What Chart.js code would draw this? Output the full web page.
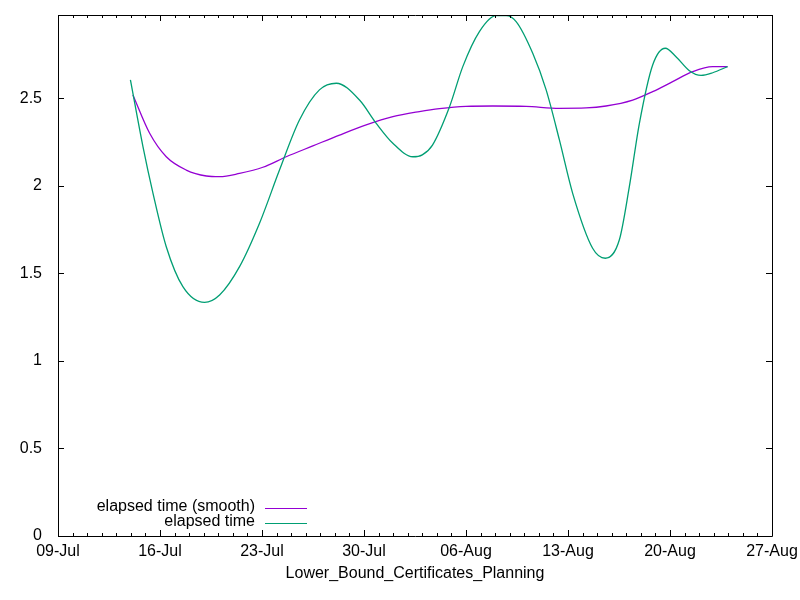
<!DOCTYPE html>
<html>
<head>
<meta charset="utf-8">
<script src="https://cdn.jsdelivr.net/npm/chart.js@4/dist/chart.umd.min.js"></script>
<style>
  html, body { margin: 0; padding: 0; background: #fff; }
  #wrap { width: 800px; height: 600px; }
</style>
</head>
<body>
<div id="wrap"><canvas id="chart" width="800" height="600"></canvas></div>
<script>
// days counted from 09-Jul
const tickLabels = ["09-Jul", "16-Jul", "23-Jul", "30-Jul", "06-Aug", "13-Aug", "20-Aug", "27-Aug"];
const yTicks = [0, 0.5, 1, 1.5, 2, 2.5];

const rawDays = [4.97, 5.83, 6.52, 7.43, 8.57, 10.06, 11.09, 12.46, 13.83, 15.2, 16.57, 17.94, 19.1,
    20.69, 21.84, 22.98, 24.35, 25.0, 25.7, 26.87, 27.78, 28.92, 30.07, 30.75, 31.44, 32.58, 33.5,
    34.41, 35.32, 36.69, 37.56, 38.52, 39.21, 39.9, 40.81, 41.68, 42.41, 43.33, 44.13, 44.93, 45.95];
const rawValues = [2.606, 2.225, 1.958, 1.653, 1.425, 1.335, 1.377, 1.539, 1.787, 2.091, 2.377, 2.549, 2.587,
    2.491, 2.358, 2.244, 2.167, 2.178, 2.234, 2.453, 2.682, 2.882, 2.973, 2.973, 2.939, 2.758, 2.549,
    2.263, 1.958, 1.644, 1.587, 1.691, 1.996, 2.358, 2.691, 2.787, 2.739, 2.659, 2.632, 2.647, 2.682];

const smoothDays = [5.14, 6.29, 7.43, 8.8, 10.18, 11.09, 12.46, 14.06, 15.66, 17.49, 19.32, 21.15, 22.98,
    24.8, 26.18, 28.0, 29.84, 32.12, 34.41, 36.24, 37.61, 39.44, 40.81, 42.18, 43.55, 44.93, 45.95];
const smoothValues = [2.52, 2.301, 2.167, 2.091, 2.057, 2.053, 2.072, 2.107, 2.167, 2.229, 2.291, 2.349, 2.396,
    2.425, 2.442, 2.455, 2.457, 2.455, 2.444, 2.446, 2.457, 2.491, 2.539, 2.596, 2.653, 2.682, 2.682];

const FONT = "'Liberation Sans', Arial, sans-serif";

function toPoints(xs, ys) {
    return xs.map((x, i) => ({ x: x, y: ys[i] }));
}

// gnuplot style frame, inward ticks and key
const gnuFrame = {
    id: "gnuFrame",
    afterDraw(chart) {
        const ctx = chart.ctx;
        const a = chart.chartArea;
        const xs = chart.scales.x;
        const ys = chart.scales.y;
        ctx.save();
        ctx.strokeStyle = "#000";
        ctx.lineWidth = 1;
        ctx.beginPath();
        ctx.rect(Math.round(a.left) + 0.5, Math.round(a.top) + 0.5,
                 Math.round(a.right - a.left), Math.round(a.bottom - a.top));
        for (let d = xs.min; d <= xs.max; d++) {
            const px = Math.round(xs.getPixelForValue(d)) + 0.5;
            const len = d % 7 === 0 ? 6 : 3;
            ctx.moveTo(px, a.bottom); ctx.lineTo(px, a.bottom - len);
            ctx.moveTo(px, a.top); ctx.lineTo(px, a.top + len);
        }
        yTicks.forEach(v => {
            const py = Math.round(ys.getPixelForValue(v)) + 0.5;
            ctx.moveTo(a.left, py); ctx.lineTo(a.left + 6, py);
            ctx.moveTo(a.right, py); ctx.lineTo(a.right - 6, py);
        });
        ctx.stroke();

        // key
        ctx.font = "16px " + FONT;
        ctx.fillStyle = "#000";
        ctx.textAlign = "right";
        ctx.textBaseline = "middle";
        chart.data.datasets.forEach((ds, i) => {
            const y = a.bottom - 29 + i * 15;
            ctx.fillText(ds.label, a.left + 197, y);
            ctx.strokeStyle = ds.borderColor;
            ctx.beginPath();
            ctx.moveTo(a.left + 207, y + 1.5);
            ctx.lineTo(a.left + 249, y + 1.5);
            ctx.stroke();
        });
        ctx.restore();
    }
};

new Chart(document.getElementById("chart"), {
    type: "line",
    data: {
        datasets: [
            {
                label: "elapsed time (smooth)",
                data: toPoints(smoothDays, smoothValues),
                borderColor: "#9400d3",
                borderWidth: 1.3,
                pointRadius: 0,
                cubicInterpolationMode: "monotone",
                order: 2
            },
            {
                label: "elapsed time",
                data: toPoints(rawDays, rawValues),
                borderColor: "#009e73",
                borderWidth: 1.3,
                pointRadius: 0,
                cubicInterpolationMode: "monotone",
                order: 1
            }
        ]
    },
    options: {
        responsive: false,
        animation: false,
        layout: { padding: { top: 15, right: 28, left: 0, bottom: 17 } },
        plugins: {
            legend: { display: false },
            tooltip: { enabled: false }
        },
        scales: {
            x: {
                type: "linear",
                min: 0,
                max: 49,
                grid: { display: false },
                border: { display: false },
                ticks: {
                    stepSize: 7,
                    includeBounds: false,
                    maxRotation: 0,
                    autoSkip: false,
                    padding: -2,
                    color: "#000",
                    font: { family: FONT, size: 16 },
                    callback: v => tickLabels[v / 7]
                },
                title: {
                    display: true,
                    text: "Lower_Bound_Certificates_Planning",
                    color: "#000",
                    font: { family: FONT, size: 16 },
                    padding: { top: 0, bottom: 0 }
                },
                afterFit: s => { s.height = 47; s.paddingLeft = 0; s.paddingRight = 0; }
            },
            y: {
                min: 0,
                max: 2.977,
                grid: { display: false },
                border: { display: false },
                ticks: {
                    stepSize: 0.5,
                    includeBounds: false,
                    padding: 8,
                    color: "#000",
                    font: { family: FONT, size: 16 },
                    callback: v => String(v)
                },
                afterFit: s => { s.width = 58; s.paddingTop = 0; s.paddingBottom = 0; }
            }
        }
    },
    plugins: [gnuFrame]
});
</script>
</body>
</html>
